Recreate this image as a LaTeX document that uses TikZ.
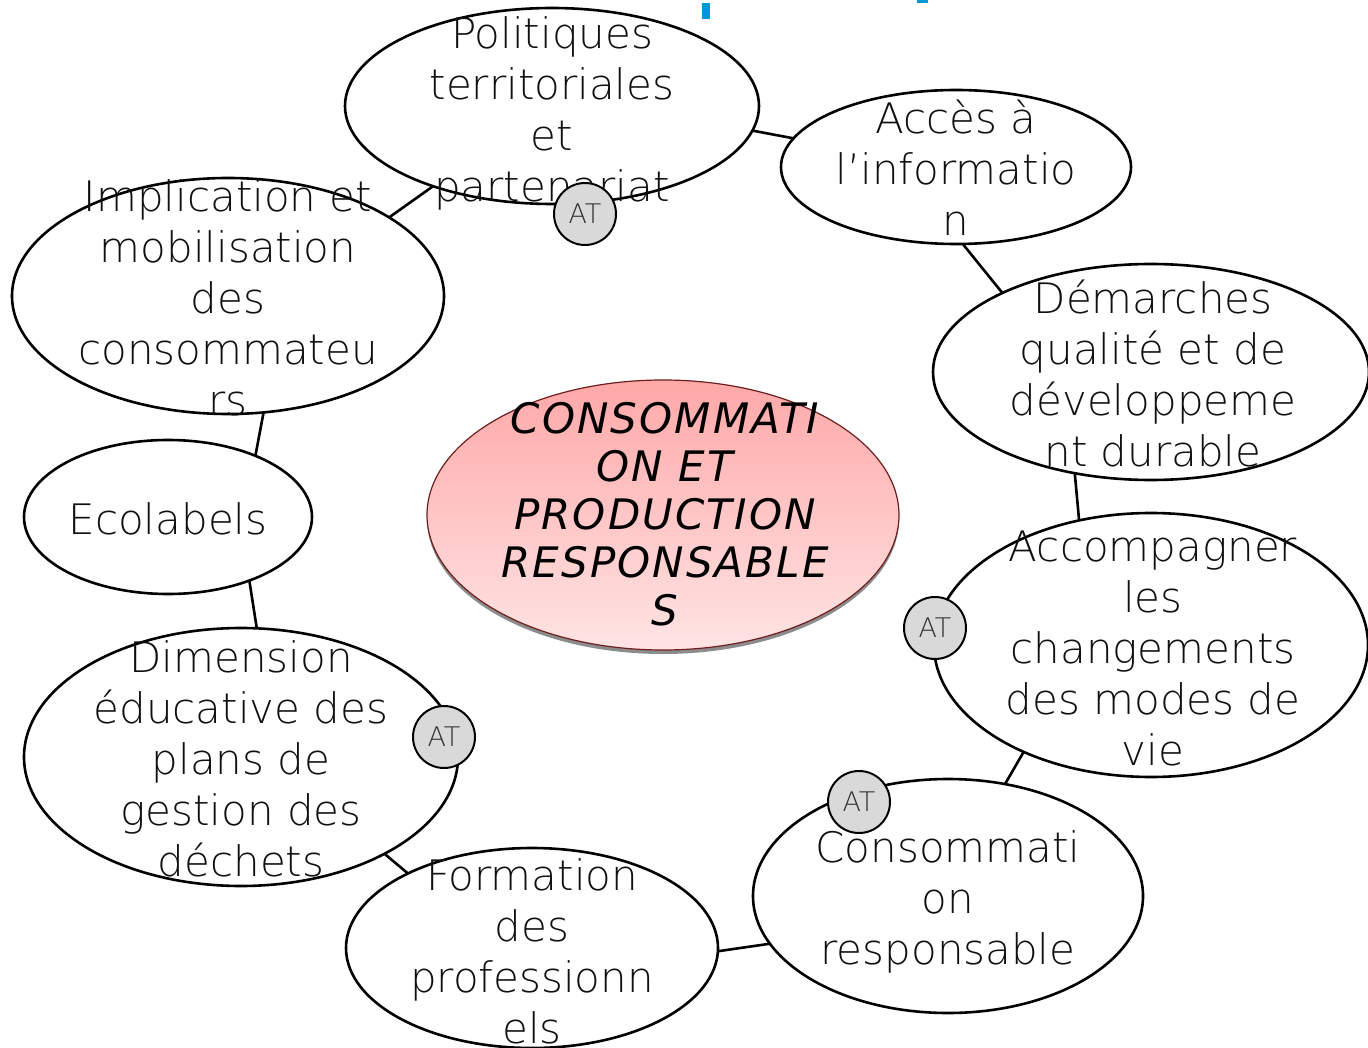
\documentclass[tikz,border=0pt]{standalone}
\usepackage{fontspec}
\setmainfont{DejaVu Sans}
\newfontfamily\lightfont{DejaVu Sans ExtraLight}
\newfontfamily\centrefont[LetterSpace=5]{DejaVu Sans}
\usetikzlibrary{shapes.geometric,shadows}
\definecolor{txtgray}{HTML}{101010}
\definecolor{atgray}{HTML}{D9D9D9}
\definecolor{pinktop}{HTML}{FFA8A8}
\definecolor{pinkbot}{HTML}{FFE4E4}
\definecolor{rimred}{HTML}{6E1E1E}
\definecolor{slideblue}{HTML}{0098D8}
\tikzset{
  bubble/.style={ellipse, draw=black, line width=2.6pt, fill=white, inner sep=0pt, outer sep=0pt},
  lbl/.style={anchor=north, inner sep=0pt, align=center, text=txtgray,
              font=\lightfont\fontsize{42}{51}\selectfont},
  conn/.style={draw=black, line width=2.6pt},
  atbadge/.style={circle, draw=black, line width=2pt, fill=atgray, minimum size=62pt,
                  inner sep=0pt, text=black!80, font=\lightfont\fontsize{27}{30}\selectfont},
}
\begin{document}
\begin{tikzpicture}[x=1pt,y=-1pt]
\useasboundingbox (0,0) rectangle (1368,1048);
% fragments of blue title at the top
\fill[slideblue] (702,3) rectangle (710,19);
\fill[slideblue] (917,0) rectangle (928,3);

% outer bubbles
\node[bubble, minimum width=414pt, minimum height=196pt] (pol) at (552,106) {};
\node[bubble, minimum width=350pt, minimum height=154pt] (acc) at (956,167) {};
\node[bubble, minimum width=436pt, minimum height=216pt] (dem) at (1151,372) {};
\node[bubble, minimum width=434pt, minimum height=264pt] (amv) at (1151,645) {};
\node[bubble, minimum width=390pt, minimum height=234pt] (cons) at (948,896) {};
\node[bubble, minimum width=372pt, minimum height=200pt] (form) at (532,948) {};
\node[bubble, minimum width=434pt, minimum height=258pt] (dim) at (241,757) {};
\node[bubble, minimum width=288pt, minimum height=154pt] (eco) at (168,517) {};
\node[bubble, minimum width=432pt, minimum height=236pt] (impl) at (228,296) {};

% centre bubble
\node[ellipse, minimum width=472pt, minimum height=270pt, inner sep=0pt,
      draw=rimred, line width=1.2pt, top color=pinktop, bottom color=pinkbot,
      drop shadow={shadow xshift=0pt, shadow yshift=-4pt, fill=black!45, opacity=1}] (core) at (663,515) {};

% connectors
\draw[conn] (pol.-7) -- (acc.170.4);
\draw[conn] (acc.-85) -- (dem.152);
\draw[conn] (dem.-127.3) -- (amv.120.3);
\draw[conn] (amv.-140.3) -- (cons.63.8);
\draw[conn] (cons.-165.7) -- (form.-1.2);
\draw[conn] (form.149.9) -- (dim.-34.3);
\draw[conn] (dim.83.8) -- (eco.-38.2);
\draw[conn] (eco.35.8) -- (impl.-73.5);
\draw[conn] (impl.26.3) -- (pol.-146);

% texts
\node[lbl] (tpol) at (552,12.3) {\strut Politiques\\\strut territoriales\\\strut et\\\strut partenariat};
\node[lbl] (tacc) at (956,97.3) {\strut Accès à\\\strut l’informatio\\\strut n};
\node[lbl] (tdem) at (1153,277.3) {\strut Démarches\\\strut qualité et de\\\strut développeme\\\strut nt durable};
\node[lbl] (tamv) at (1153,525.8) {\strut Accompagner\\\strut les\\\strut changements\\\strut des modes de\\\strut vie};
\node[lbl] (tcons) at (948,826.3) {\strut Consommati\\\strut on\\\strut responsable};
\node[lbl] (tform) at (532,854.8) {\strut Formation\\\strut des\\\strut professionn\\\strut els};
\node[lbl] (tdim) at (241,636.8) {\strut Dimension\\\strut éducative des\\\strut plans de\\\strut gestion des\\\strut déchets};
\node[lbl] (teco) at (168,498.3) {\strut Ecolabels};
\node[lbl] (timpl) at (228,175.8) {\strut Implication et\\\strut mobilisation\\\strut des\\\strut consommateu\\\strut rs};
\node[anchor=north, inner sep=0pt, align=center, text=black,
      font=\centrefont\itshape\fontsize{42}{48}\selectfont] (tcore) at (665,399.4)
  {\strut CONSOMMATI\\\strut ON ET\\\strut PRODUCTION\\\strut RESPONSABLE\\\strut S};

% AT badges
\node[atbadge] (at1) at (585,214) {AT};
\node[atbadge] (at2) at (935,628) {AT};
\node[atbadge] (at3) at (444,737) {AT};
\node[atbadge] (at4) at (859,802) {AT};
\end{tikzpicture}
\end{document}
